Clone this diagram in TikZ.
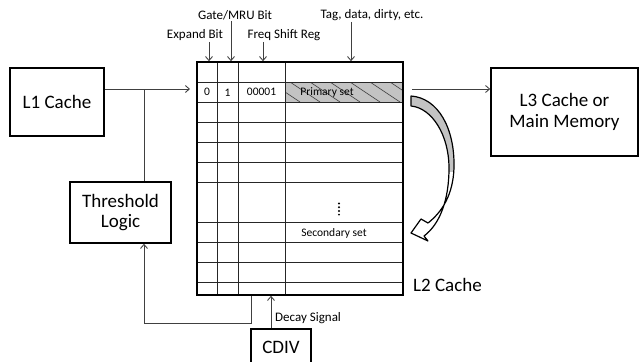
\documentclass[tikz,border=0pt]{standalone}
\usepackage{fontspec}
\setmainfont{Carlito}
\usetikzlibrary{arrows.meta}
\definecolor{conncol}{HTML}{404040}
\definecolor{hatchfill}{HTML}{C3C3C3}
\begin{document}
\begin{tikzpicture}[x=1pt,y=-1pt,
  bigbox/.style={draw=black,line width=1.6pt,inner sep=0pt,align=center,font=\fontsize{19}{22}\selectfont},
  conn/.style={draw=conncol,line width=0.9pt},
  arr/.style={conn,-{Straight Barb[length=4pt,width=7pt]}},
  toplabel/.style={font=\fontsize{13}{15}\selectfont,inner sep=1pt},
  celltext/.style={font=\fontsize{11.5}{13}\selectfont,inner sep=0pt},
  grid/.style={draw=black!85,line width=0.9pt}]
\useasboundingbox (0,0) rectangle (641,362);

% boxes
\node[bigbox,minimum width=94pt,minimum height=68pt] (l1) at (57,102) {L1 Cache};
\node[bigbox,minimum width=101pt,minimum height=61pt] (thr) at (120.5,212.5) {Threshold\\[-2pt]Logic};
\node[bigbox,minimum width=147pt,minimum height=88pt] (l3) at (564.5,112) {L3 Cache or\\[-1pt]Main Memory};
\node[bigbox,minimum width=60pt,minimum height=37pt] (cdiv) at (281,347.5) {CDIV};

% hatched primary set cell
\fill[hatchfill] (285,82) rectangle (403,102);
\begin{scope}
  \clip (285,82) rectangle (403,102);
  \foreach \x in {250,270,...,410} {
    \draw[conncol,line width=0.6pt] (\x,82) -- (\x+30,102);
  }
\end{scope}

% table grid
\foreach \y in {82.3,102.3,122.3,142.3,162.3,182.3,222.7,242.7,262.7,282.7} {
  \draw[grid] (197,\y) -- (403,\y);
}
\foreach \x in {217,238,285} {
  \draw[grid] (\x,62) -- (\x,295);
}
\node[draw=black,line width=1.6pt,minimum width=206pt,minimum height=233pt,inner sep=0pt] (l2) at (300,178.5) {};

% cell texts
\node[celltext] (c0) at (207,92.3) {0};
\node[celltext] (c1) at (227.5,92.3) {1};
\node[celltext] (c2) at (261.5,92.3) {00001};
\node[celltext] (prim) at (327,92.3) {Primary set};
\node[celltext] (sec) at (334,233) {Secondary set};
\foreach \y in {203.5,207.2,210.9,214.6} { \fill[black] (339,\y) circle (1.1pt); }

% top labels and arrows
\node[toplabel] (gate) at (235,15) {Gate/MRU Bit};
\node[toplabel] (exp) at (195,35) {Expand Bit};
\node[toplabel] (freq) at (284,35) {Freq Shift Reg};
\node[toplabel] (tag) at (372,15) {Tag, data, dirty, etc.};
\coordinate (xe) at (209,0);
\coordinate (xg) at (231,0);
\coordinate (xf) at (263,0);
\coordinate (xt) at (351,0);
\draw[arr] (xe |- exp.south) -- (xe |- l2.north);
\draw[arr] (xg |- gate.south) -- (xg |- l2.north);
\draw[arr] (xf |- freq.south) -- (xf |- l2.north);
\draw[arr] (xt |- tag.south) -- (xt |- l2.north);

% connectors
\coordinate (j) at (144,89);
\coordinate (l2in) at (190,89);
\draw[arr] (l1.east |- j) -- (l2in);
\draw[conn] (j) -- (j |- thr.north);
\coordinate (fb) at (251,323);
\draw[arr] (fb |- l2.south) -- (fb) -- (j |- fb) -- (j |- thr.south);
\coordinate (ds) at (271,0);
\draw[arr] (ds |- cdiv.north) -- (ds |- l2.south);
\node[toplabel,anchor=west] (dlab) at (274,318) {Decay Signal};
\coordinate (o1) at (412,89);
\draw[arr] (o1) -- (o1 -| l3.west);

% L2 label
\node[font=\fontsize{19}{22}\selectfont,anchor=west,inner sep=0pt] (l2lab) at (413,285) {L2 Cache};

% curved arrow
\def\curvedarrow{(411,96) .. controls (438,98) and (455,128) .. (454,168)
  .. controls (453,195) and (442,212) .. (428,223) -- (421,219) -- (411,233) -- (428,241) -- (424,236)
  .. controls (440,224) and (449,200) .. (449,168)
  .. controls (449,135) and (432,108) .. (411,106) -- cycle}
\fill[white] \curvedarrow;
\begin{scope}
  \clip \curvedarrow;
  \fill[hatchfill] (405,90) rectangle (460,172);
\end{scope}
\draw[black,line width=1.2pt,line join=round] \curvedarrow;
\end{tikzpicture}
\end{document}
